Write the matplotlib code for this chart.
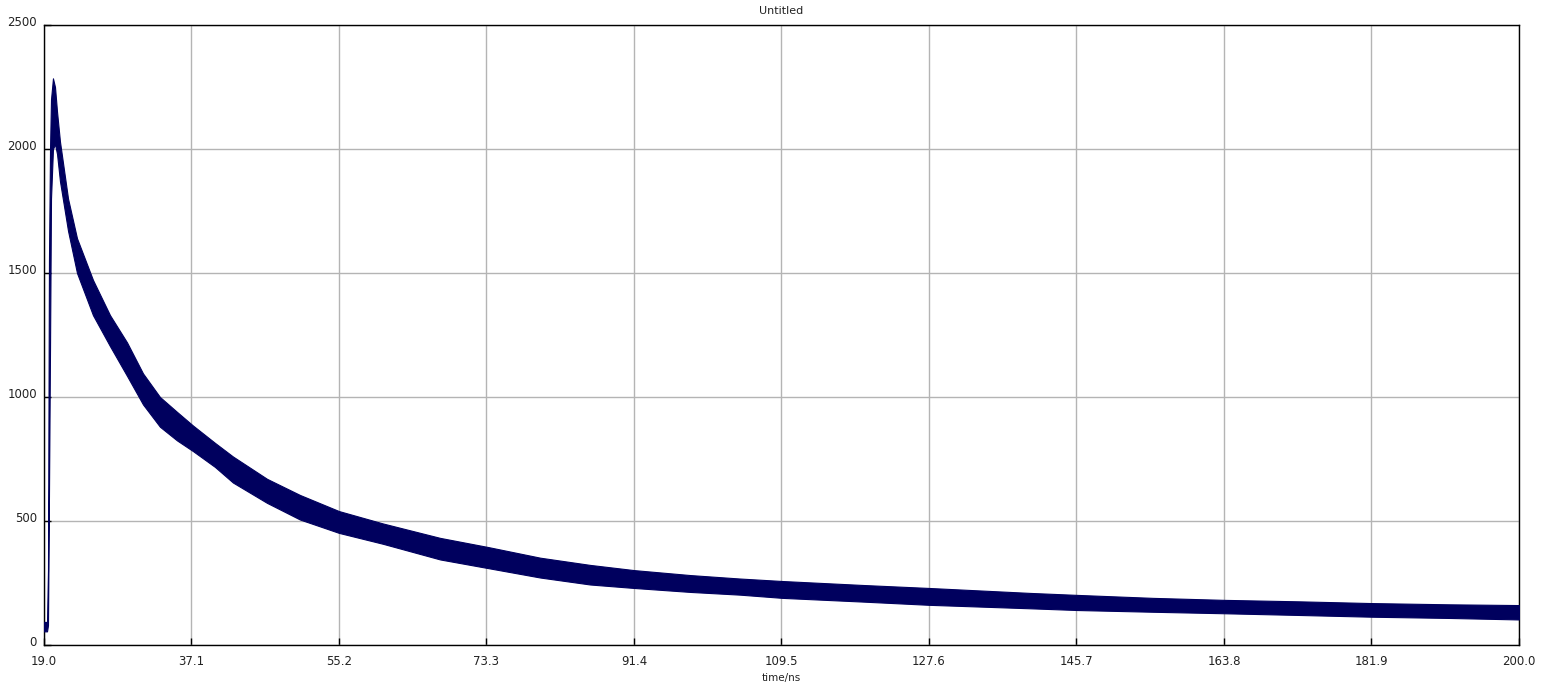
import matplotlib
matplotlib.use("Agg")
import matplotlib.pyplot as plt
import matplotlib.transforms as mtransforms
import numpy as np

# Time axis (ns) and the read-off envelope of the noisy decay trace
time_ns = [19.0, 19.37, 19.49, 19.61, 19.74, 19.86, 20.10, 20.35, 20.60, 20.96,
           21.95, 23.05, 25.01, 27.10, 29.19, 31.15, 33.23, 35.32, 37.28, 39.98,
           42.19, 46.37, 50.41, 55.2, 60.6, 67.6, 73.5, 79.9, 86.0, 91.4,
           98.3, 104.4, 109.6, 119.5, 127.6, 140.0, 145.8, 155.1, 163.8, 173.1,
           182.0, 191.5, 200.0]
counts_upper = [93, 93, 300, 1550, 2000, 2200, 2285, 2250, 2150, 2030,
                1800, 1640, 1472, 1330, 1220, 1095, 1000, 940, 885, 815,
                760, 670, 605, 540, 490, 432, 395, 352, 323, 302,
                282, 268, 258, 242, 230, 210, 202, 190, 182, 176,
                169, 164, 161]
counts_lower = [55, 55, 80, 600, 1200, 1800, 2000, 2020, 1980, 1870,
                1670, 1500, 1330, 1205, 1085, 970, 880, 825, 782, 718,
                655, 573, 506, 452, 408, 345, 310, 272, 244, 230,
                214, 203, 190, 175, 162, 148, 141, 134, 128, 121,
                114, 109, 103]

x_ticks = [19.0, 37.1, 55.2, 73.3, 91.4, 109.5, 127.6, 145.7, 163.8, 181.9, 200.0]
y_ticks = [0, 500, 1000, 1500, 2000, 2500]

trace_color = "#00005e"

fig = plt.figure(figsize=(15.41, 6.89), dpi=100)
ax = fig.add_axes([44/1541, 44/689, 1475/1541, 620/689])

ax.fill_between(time_ns, counts_lower, counts_upper, color=trace_color,
                linewidth=0.8, edgecolor=trace_color, zorder=3)

ax.set_xlim(19.0, 200.0)
ax.set_ylim(0, 2500)
ax.set_xticks(x_ticks)
ax.set_xticklabels([f"{v:.1f}" for v in x_ticks])
ax.set_yticks(y_ticks)
ax.set_yticklabels([str(v) for v in y_ticks])

ax.grid(True, color="#b4b4b4", linewidth=1.0, zorder=0)
ax.set_axisbelow(True)
ax.tick_params(axis="both", direction="in", length=5, width=1, color="black",
               labelsize=8.5, labelcolor="#222222")
ax.tick_params(axis="x", pad=7)
ax.tick_params(axis="y", pad=5)
for sp in ax.spines.values():
    sp.set_linewidth(1.0)
    sp.set_color("black")

# shift y tick labels slightly upward as in the reference
offset = mtransforms.ScaledTranslation(0, 4/100, fig.dpi_scale_trans)
for lbl in ax.get_yticklabels():
    lbl.set_transform(lbl.get_transform() + offset)

ax.set_xlabel("time/ns", fontsize=7.5, labelpad=4, color="#222222")
ax.set_title("Untitled", fontsize=8, pad=8, color="#222222")

fig.savefig("out.png", dpi=100, facecolor="white")
